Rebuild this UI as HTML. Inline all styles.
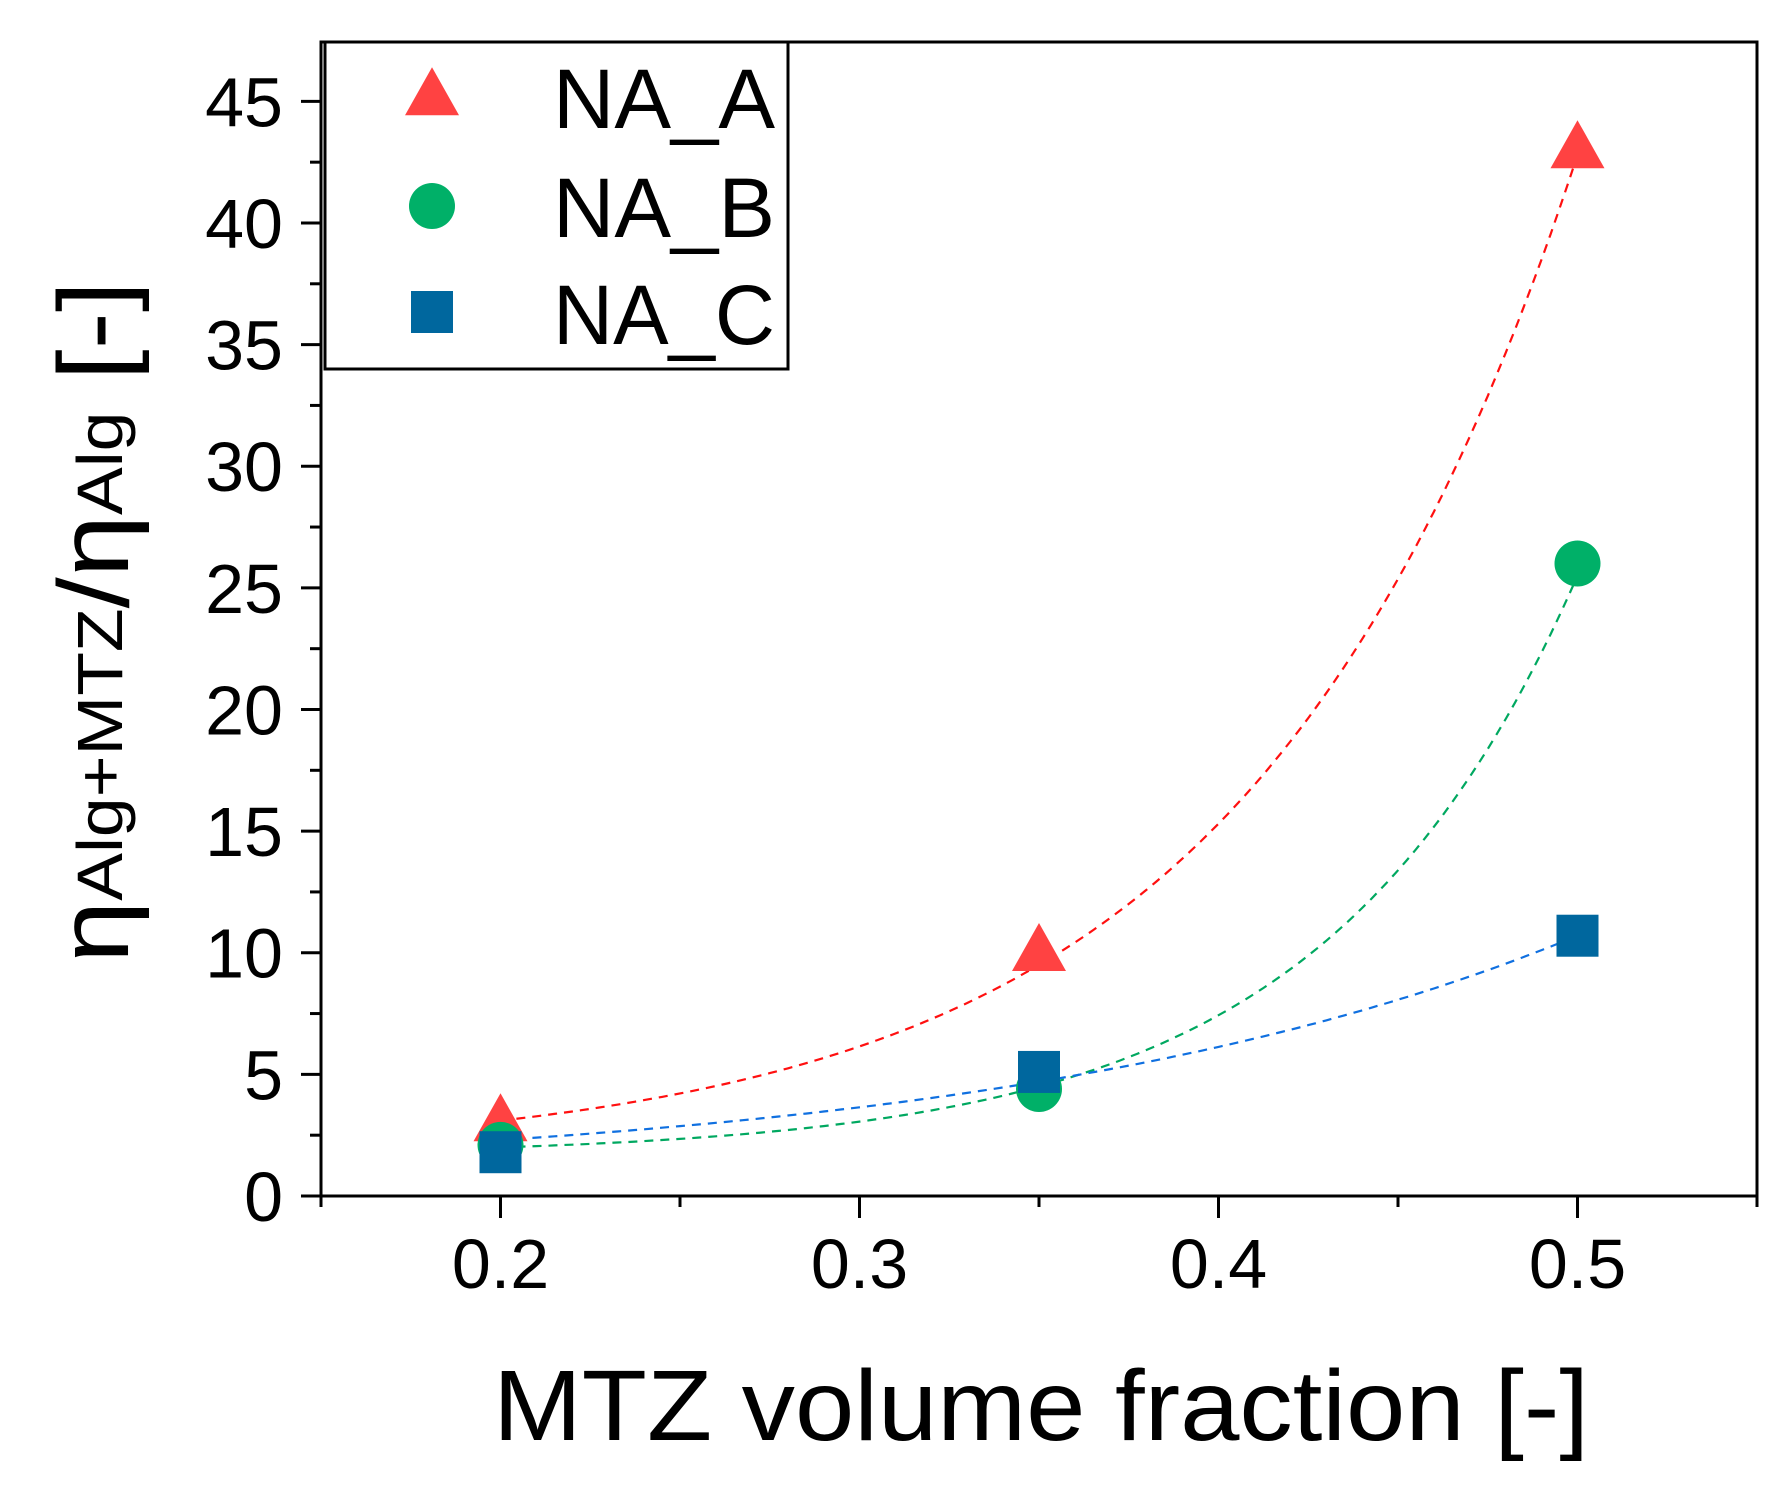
<!DOCTYPE html>
<html><head><meta charset="utf-8"><style>
html,body{margin:0;padding:0;background:#fff;}
svg{display:block;font-family:"Liberation Sans",Arial,sans-serif;}
</style></head><body>
<svg id="chart" width="1790" height="1502" viewBox="0 0 1790 1502" xmlns="http://www.w3.org/2000/svg">
<g id="plot"></g>
</svg>
<script>
const xCats = [0.2, 0.35, 0.5];
const seriesA = [3.0, 10.0, 43.0];
const seriesB = [2.1, 4.4, 26.0];
const seriesC = [1.8, 5.1, 10.7];
const fitA = [3.1, 9.5, 42.8];
const fitB = [2.0, 4.5, 25.5];
const fitC = [2.3, 4.7, 10.7];
const yTicks = [0, 5, 10, 15, 20, 25, 30, 35, 40, 45];
const xTicks = [0.2, 0.3, 0.4, 0.5];
const xTickLabels = ["0.2", "0.3", "0.4", "0.5"];
const legendLabels = ["NA_A", "NA_B", "NA_C"];

const NS = "http://www.w3.org/2000/svg";
const svg = document.getElementById('chart');
const L = 321, R = 1757, T = 42, B = 1196;
const xMin = 0.15, xMax = 0.55, yMin = 0, yMax = 47.44;
function xs(v){ return L + (v - xMin) / (xMax - xMin) * (R - L); }
function ys(v){ return B - (v - yMin) / (yMax - yMin) * (B - T); }
function mk(tag, attrs){ const e = document.createElementNS(NS, tag); for (const k in attrs) e.setAttribute(k, attrs[k]); svg.appendChild(e); return e; }

function curve(fit, color, name){
  const r = (fit[2]-fit[1])/(fit[1]-fit[0]);
  const dx = xCats[1]-xCats[0];
  const t = dx/Math.log(r);
  const a = (fit[1]-fit[0])/(Math.exp(xCats[1]/t)-Math.exp(xCats[0]/t));
  const c = fit[0] - a*Math.exp(xCats[0]/t);
  let d = "";
  for (let i = 0; i <= 120; i++){
    const x = xCats[0] + (xCats[2]-xCats[0])*i/120;
    const y = c + a*Math.exp(x/t);
    d += (i ? "L" : "M") + xs(x).toFixed(1) + "," + ys(y).toFixed(1);
  }
  const p = mk('path', {d: d, fill: 'none', stroke: color, 'stroke-width': 2.2, 'stroke-dasharray': '9,7'});
  
  
}
curve(fitA, '#ff1010', 'fit-line-na-a');
curve(fitB, '#00a860', 'fit-line-na-b');
curve(fitC, '#1070e0', 'fit-line-na-c');

function tri(cx, cy, name){
  const w = 54, h = 48;
  const p = mk('polygon', {points: `${cx},${cy-h*0.62} ${cx-w/2},${cy+h*0.38} ${cx+w/2},${cy+h*0.38}`, fill: '#ff4242'});
  
  
}
function circ(cx, cy, name){
  const c = mk('circle', {cx: cx, cy: cy, r: 23, fill: '#00b068'});
  
  
}
function sq(cx, cy, name){
  const s = mk('rect', {x: cx-21, y: cy-21, width: 42, height: 42, fill: '#00679e'});
  
  
}
xCats.forEach((x, i) => {
  tri(xs(x), ys(seriesA[i]), 'point-na-a-' + i);
  circ(xs(x), ys(seriesB[i]), 'point-na-b-' + i);
  sq(xs(x), ys(seriesC[i]), 'point-na-c-' + i);
});

const frame = mk('rect', {x: L, y: T, width: R-L, height: B-T, fill: 'none', stroke: '#000', 'stroke-width': 3});



yTicks.forEach(v => {
  const y = ys(v);
  const t = mk('line', {x1: L-20, x2: L, y1: y, y2: y, stroke: '#000', 'stroke-width': 3});
  
  
  const lb = mk('text', {x: 283, y: y+25, 'font-size': 70, 'text-anchor': 'end', fill: '#000'});
  lb.textContent = String(v);
  
  
  const m = ys(v + 2.5);
  if (m > T + 2){
    const mt = mk('line', {x1: L-11, x2: L, y1: m, y2: m, stroke: '#000', 'stroke-width': 3});
    
    
  }
});
xTicks.forEach((v, i) => {
  const x = xs(v);
  const t = mk('line', {x1: x, x2: x, y1: B, y2: B+22, stroke: '#000', 'stroke-width': 3});
  
  
  const lb = mk('text', {x: x, y: 1288, 'font-size': 70, 'text-anchor': 'middle', fill: '#000'});
  lb.textContent = xTickLabels[i];
  
  
});
[0.15, 0.25, 0.35, 0.45, 0.55].forEach(v => {
  const x = xs(v);
  const t = mk('line', {x1: x, x2: x, y1: B, y2: B+11, stroke: '#000', 'stroke-width': 3});
  
  
});

const xt = mk('text', {x: 493, y: 1440, 'font-size': 100, fill: '#000', textLength: 1096, lengthAdjust: 'spacingAndGlyphs'});
xt.textContent = 'MTZ volume fraction [-]';



const yt = document.createElementNS(NS, 'text');
yt.setAttribute('transform', 'translate(128,963) rotate(-90)');
yt.setAttribute('font-size', '100');
yt.setAttribute('fill', '#000');
yt.setAttribute('textLength', '682');
yt.setAttribute('lengthAdjust', 'spacingAndGlyphs');
yt.innerHTML = 'η<tspan font-size="64" dy="-6">Alg+MTZ</tspan><tspan dy="6">/η</tspan><tspan font-size="64" dy="-6">Alg</tspan><tspan dy="6"> [-]</tspan>';


svg.appendChild(yt);

const lg = mk('rect', {x: 325, y: 42, width: 463, height: 327, fill: '#fff', stroke: '#000', 'stroke-width': 3});


const lgY = [94, 206, 312];
const lgBase = [128, 237, 344];
tri(432, lgY[0] + 3, 'legend-marker-na-a');
circ(432, lgY[1], 'legend-marker-na-b');
sq(432, lgY[2], 'legend-marker-na-c');
legendLabels.forEach((s, i) => {
  const t = mk('text', {x: 553, y: lgBase[i], 'font-size': 84, fill: '#000', textLength: 222, lengthAdjust: 'spacingAndGlyphs'});
  t.textContent = s;
  
  
});
</script>
</body></html>
